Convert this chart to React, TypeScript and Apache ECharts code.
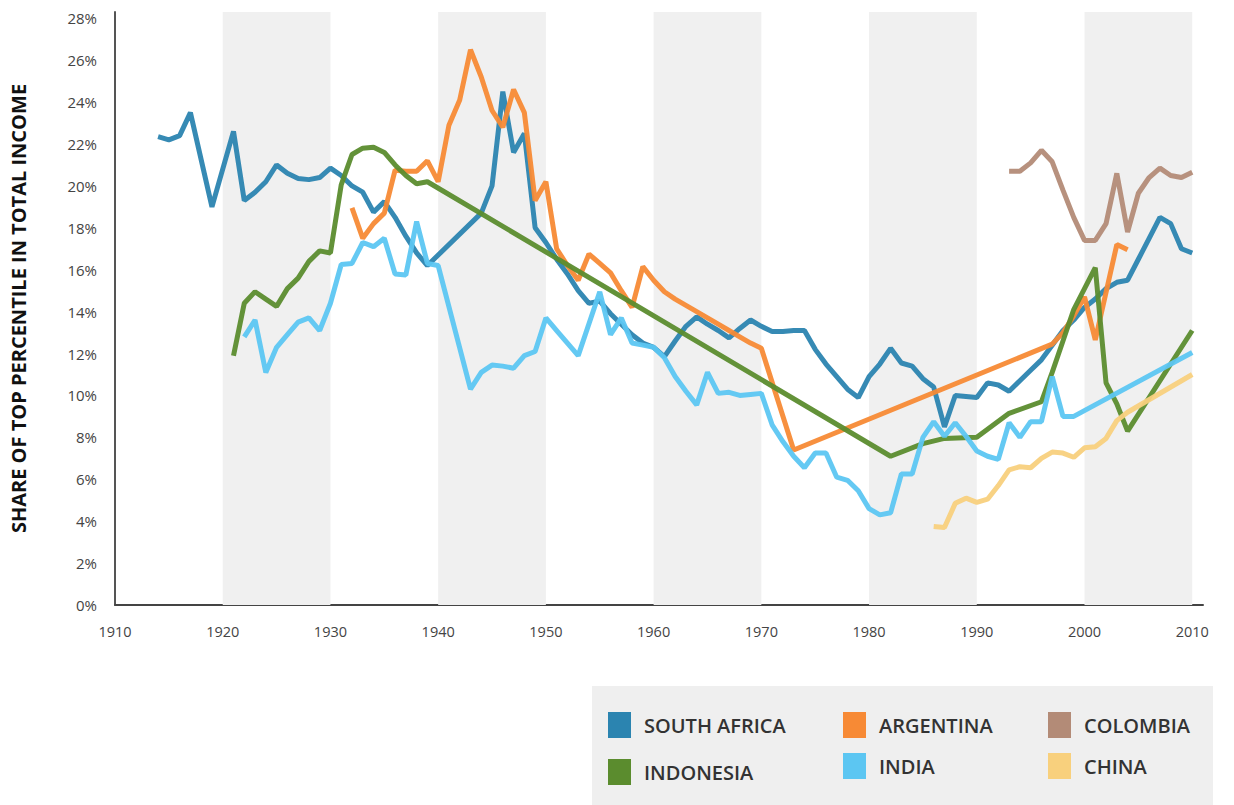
import React, { useEffect, useRef } from "react";
import * as echarts from "echarts";

const decadeBands: [number, number][] = [
  [1920, 1930],
  [1940, 1950],
  [1960, 1970],
  [1980, 1990],
  [2000, 2010],
];

const southAfrica: [number, number][] = [
  [1914, 22.35], [1915, 22.2], [1916, 22.4], [1917, 23.5], [1919, 19.0], [1921, 22.6], [1922, 19.3],
  [1923, 19.7], [1924, 20.2], [1925, 21.0], [1926, 20.6], [1927, 20.35], [1928, 20.3], [1929, 20.4],
  [1930, 20.85], [1931, 20.5], [1932, 20.0], [1933, 19.7], [1934, 18.75], [1935, 19.25], [1936, 18.5],
  [1937, 17.6], [1938, 16.8], [1939, 16.2], [1944, 18.7], [1945, 20.0], [1946, 24.5], [1947, 21.6],
  [1948, 22.5], [1949, 18.0], [1950, 17.3], [1951, 16.5], [1952, 15.8], [1953, 15.0], [1954, 14.4],
  [1955, 14.5], [1956, 13.9], [1957, 13.4], [1958, 12.9], [1959, 12.5], [1960, 12.3], [1961, 11.85],
  [1962, 12.6], [1963, 13.3], [1964, 13.75], [1965, 13.4], [1966, 13.1], [1967, 12.75], [1968, 13.2],
  [1969, 13.6], [1970, 13.3], [1971, 13.05], [1972, 13.05], [1973, 13.1], [1974, 13.1], [1975, 12.2],
  [1976, 11.5], [1977, 10.9], [1978, 10.3], [1979, 9.9], [1980, 10.9], [1981, 11.5], [1982, 12.25],
  [1983, 11.55], [1984, 11.4], [1985, 10.8], [1986, 10.4], [1987, 8.5], [1988, 10.0], [1989, 9.95],
  [1990, 9.9], [1991, 10.6], [1992, 10.5], [1993, 10.2], [1994, 10.7], [1995, 11.2], [1996, 11.7],
  [1997, 12.4], [1998, 13.1], [1999, 13.6], [2000, 14.2], [2001, 14.6], [2002, 15.1], [2003, 15.4],
  [2004, 15.5], [2005, 16.5], [2006, 17.5], [2007, 18.5], [2008, 18.2], [2009, 17.0], [2010, 16.8],
];

const argentina: [number, number][] = [
  [1932, 18.95], [1933, 17.5], [1934, 18.2], [1935, 18.7], [1936, 20.75], [1937, 20.7], [1938, 20.7],
  [1939, 21.2], [1940, 20.2], [1941, 22.9], [1942, 24.1], [1943, 26.5], [1944, 25.2], [1945, 23.6],
  [1946, 22.8], [1947, 24.6], [1948, 23.5], [1949, 19.3], [1950, 20.2], [1951, 17.0], [1952, 16.2],
  [1953, 15.5], [1954, 16.75], [1955, 16.3], [1956, 15.85], [1957, 15.0], [1958, 14.2], [1959, 16.15],
  [1960, 15.5], [1961, 14.95], [1962, 14.6], [1963, 14.3], [1964, 14.0], [1965, 13.7], [1966, 13.4],
  [1967, 13.1], [1968, 12.8], [1969, 12.5], [1970, 12.25], [1973, 7.4], [1997, 12.45], [1998, 13.0],
  [1999, 13.8], [2000, 14.7], [2001, 12.65], [2003, 17.2], [2004, 16.95],
];

const colombia: [number, number][] = [
  [1993, 20.7], [1994, 20.7], [1995, 21.1], [1996, 21.7], [1997, 21.15], [1998, 19.8], [1999, 18.5],
  [2000, 17.4], [2001, 17.4], [2002, 18.2], [2003, 20.6], [2004, 17.8], [2005, 19.65], [2006, 20.4],
  [2007, 20.85], [2008, 20.5], [2009, 20.4], [2010, 20.65],
];

const indonesia: [number, number][] = [
  [1921, 11.9], [1922, 14.4], [1923, 14.95], [1924, 14.6], [1925, 14.25], [1926, 15.1], [1927, 15.6],
  [1928, 16.4], [1929, 16.9], [1930, 16.8], [1931, 20.05], [1932, 21.5], [1933, 21.8], [1934, 21.85],
  [1935, 21.6], [1936, 21.0], [1937, 20.5], [1938, 20.1], [1939, 20.2], [1982, 7.1], [1985, 7.7],
  [1987, 7.95], [1990, 8.0], [1993, 9.15], [1996, 9.7], [1997, 11.1], [1998, 12.6], [1999, 14.1],
  [2000, 15.1], [2001, 16.1], [2002, 10.6], [2003, 9.6], [2004, 8.3], [2010, 13.1],
];

const india: [number, number][] = [
  [1922, 12.8], [1923, 13.6], [1924, 11.1], [1925, 12.3], [1926, 12.9], [1927, 13.5], [1928, 13.7],
  [1929, 13.1], [1930, 14.4], [1931, 16.25], [1932, 16.3], [1933, 17.3], [1934, 17.1], [1935, 17.5],
  [1936, 15.8], [1937, 15.75], [1938, 18.3], [1939, 16.3], [1940, 16.2], [1943, 10.3], [1944, 11.1],
  [1945, 11.45], [1946, 11.4], [1947, 11.3], [1948, 11.9], [1949, 12.1], [1950, 13.7], [1951, 13.1],
  [1952, 12.5], [1953, 11.9], [1955, 14.95], [1956, 12.9], [1957, 13.7], [1958, 12.5], [1959, 12.4],
  [1960, 12.3], [1961, 11.8], [1962, 10.9], [1963, 10.2], [1964, 9.55], [1965, 11.1], [1966, 10.1],
  [1967, 10.15], [1968, 10.0], [1969, 10.05], [1970, 10.1], [1971, 8.6], [1972, 7.8], [1973, 7.1],
  [1974, 6.55], [1975, 7.25], [1976, 7.25], [1977, 6.1], [1978, 5.95], [1979, 5.45], [1980, 4.6],
  [1981, 4.3], [1982, 4.4], [1983, 6.25], [1984, 6.25], [1985, 8.0], [1986, 8.75], [1987, 8.05],
  [1988, 8.7], [1989, 8.05], [1990, 7.35], [1991, 7.1], [1992, 6.95], [1993, 8.7], [1994, 8.0],
  [1995, 8.75], [1996, 8.75], [1997, 10.9], [1998, 9.0], [1999, 9.0], [2010, 12.05],
];

const china: [number, number][] = [
  [1986, 3.75], [1987, 3.7], [1988, 4.85], [1989, 5.1], [1990, 4.9], [1991, 5.05], [1992, 5.7],
  [1993, 6.45], [1994, 6.6], [1995, 6.55], [1996, 7.0], [1997, 7.3], [1998, 7.25], [1999, 7.05],
  [2000, 7.5], [2001, 7.55], [2002, 7.95], [2003, 8.8], [2004, 9.2], [2010, 11.0],
];

const seriesDefs = [
  { name: "SOUTH AFRICA", data: southAfrica, color: "#2b84b0" },
  { name: "ARGENTINA", data: argentina, color: "#f78a35" },
  { name: "COLOMBIA", data: colombia, color: "#b38b77" },
  { name: "INDONESIA", data: indonesia, color: "#5b8c2e" },
  { name: "INDIA", data: india, color: "#5cc6f2" },
  { name: "CHINA", data: china, color: "#f8d07d" },
];

const legendSpots: { name: string; left: number; top: number }[] = [
  { name: "SOUTH AFRICA", left: 608, top: 712 },
  { name: "ARGENTINA", left: 843, top: 712 },
  { name: "COLOMBIA", left: 1048, top: 712 },
  { name: "INDONESIA", left: 608, top: 759 },
  { name: "INDIA", left: 843, top: 753 },
  { name: "CHINA", left: 1048, top: 753 },
];

const FONT = "'Open Sans', Lato, sans-serif";

export default function App() {
  const ref = useRef<HTMLDivElement>(null);
  useEffect(() => {
    if (!ref.current) return;
    const chart = echarts.init(ref.current, null, { renderer: "svg" });
    const option: any = {
      animation: false,
      backgroundColor: "#ffffff",
      grid: { left: 111, right: 31, top: 12, bottom: 200 },
      graphic: [
        {
          type: "rect",
          shape: { x: 592, y: 686, width: 621, height: 119 },
          style: { fill: "#efefef" },
          z: -1,
        },
      ],
      legend: legendSpots.map((l) => ({
        data: [l.name],
        left: l.left,
        top: l.top,
        padding: 0,
        icon: "rect",
        itemWidth: 23,
        itemHeight: 26,
        selectedMode: false,
        textStyle: {
          fontFamily: FONT,
          fontSize: 20,
          fontWeight: 600,
          color: "#333",
          padding: [0, 0, 0, 8],
        },
      })),
      xAxis: {
        type: "value",
        min: 1910,
        max: 2011,
        interval: 10,
        axisLine: { show: true, lineStyle: { color: "#444", width: 2 } },
        axisTick: { show: false },
        splitLine: { show: false },
        axisLabel: {
          margin: 19,
          color: "#444",
          fontFamily: FONT,
          fontSize: 14.5,
          formatter: (v: number) => (v % 10 === 0 ? String(v) : ""),
        },
      },
      yAxis: {
        type: "value",
        min: 0,
        max: 28.3,
        interval: 2,
        name: "SHARE OF TOP PERCENTILE IN TOTAL INCOME",
        nameLocation: "middle",
        nameGap: 87,
        nameTextStyle: { fontFamily: FONT, fontSize: 20, fontWeight: "bold", color: "#111" },
        axisLine: { show: true, lineStyle: { color: "#555", width: 2 } },
        axisTick: { show: false },
        splitLine: { show: false },
        axisLabel: {
          margin: 18,
          color: "#444",
          fontFamily: FONT,
          fontSize: 15,
          formatter: (v: number) => (Math.abs(v % 2) < 1e-6 ? v + "%" : ""),
        },
      },
      series: [
        {
          name: "bands",
          type: "line",
          data: [],
          z: 1,
          silent: true,
          markArea: {
            silent: true,
            itemStyle: { color: "#f0f0f0" },
            data: decadeBands.map(([a, b]) => [{ xAxis: a }, { xAxis: b }]),
          },
        },
        ...seriesDefs.map((s) => ({
          name: s.name,
          type: "line",
          data: s.data,
          z: 3,
          color: s.color,
          showSymbol: false,
          symbol: "none",
          lineStyle: { color: s.color, width: 5, opacity: 0.95 },
          itemStyle: { color: s.color },
        })),
      ],
    };
    chart.setOption(option);
    return () => chart.dispose();
  }, []);
  return (
    <div
      ref={ref}
      style={{ position: "fixed", left: 0, top: 0, width: 1234, height: 805 }}
    />
  );
}
